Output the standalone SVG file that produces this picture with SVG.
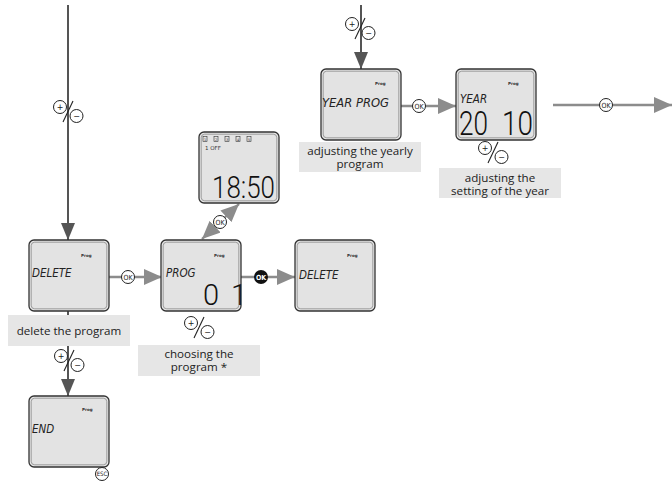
<svg xmlns="http://www.w3.org/2000/svg" xmlns:xlink="http://www.w3.org/1999/xlink" width="672" height="482" viewBox="0 0 672 482">
<style>
.lcd-outer{fill:#e3e3e3;stroke:#333;stroke-width:1.3}
.lcd-inner{fill:none;stroke:#8a8a8a;stroke-width:0.8}
.prog{font-family:"DejaVu Sans",sans-serif;font-size:4px;font-weight:bold;fill:#333}
.seg{font-family:"DejaVu Sans",sans-serif;font-style:oblique;font-size:11.5px;fill:#222;font-stretch:condensed}
.big{font-family:"Roboto","DejaVu Sans",sans-serif;font-weight:300;fill:#111}
.lbl-bg{fill:#e6e6e6}
.lbl{font-family:"Open Sans","Noto Sans",sans-serif;font-size:11.6px;fill:#222;text-anchor:middle}
.dark{stroke:#555;stroke-width:2;fill:none}
.grey{stroke:#8c8c8c;stroke-width:2.4;fill:none}
.okc{fill:#fff;stroke:#222;stroke-width:1}
.okt{font-family:"DejaVu Sans",sans-serif;font-size:7px;fill:#222;text-anchor:middle;font-stretch:condensed}
.pm{fill:#fff;stroke:#222;stroke-width:1}
.pmt{font-family:"DejaVu Sans",sans-serif;font-size:8px;fill:#222;text-anchor:middle}
</style>
<defs>
<marker id="ad" markerUnits="userSpaceOnUse" markerWidth="18" markerHeight="14" refX="17" refY="7" orient="auto"><path d="M0,0 L17,7 L0,14 z" fill="#555"/></marker>
<marker id="ag" markerUnits="userSpaceOnUse" markerWidth="19" markerHeight="16" refX="18" refY="8" orient="auto-start-reverse"><path d="M0,0 L18,8 L0,16 z" fill="#8c8c8c"/></marker>
<g id="pm">
<circle class="pm" cx="-8" cy="-4" r="6.5"/>
<text class="pmt" x="-8" y="-1.2">+</text>
<circle class="pm" cx="8.5" cy="5" r="6.5"/>
<text class="pmt" x="8.5" y="7.8">−</text>
<line x1="-5" y1="11" x2="5" y2="-10" stroke="#222" stroke-width="1.1"/>
</g>
<g id="box">
<rect class="lcd-outer" x="0" y="0" width="80" height="71" rx="5"/>
<rect class="lcd-inner" x="2.2" y="2.2" width="75.6" height="66.6" rx="3.5"/>
</g>
</defs>

<g id="connectors">
<line class="dark" x1="68" y1="5" x2="68" y2="240" marker-end="url(#ad)"/>
<line class="dark" x1="68" y1="311" x2="68" y2="396" marker-end="url(#ad)"/>
<line class="grey" x1="109" y1="277" x2="162" y2="277" marker-end="url(#ag)"/>
<line class="grey" x1="241" y1="277" x2="295" y2="277" marker-end="url(#ag)"/>
<line class="grey" x1="202" y1="239" x2="239" y2="204" marker-start="url(#ag)" marker-end="url(#ag)"/>
<line class="dark" x1="361" y1="5" x2="361" y2="69" marker-end="url(#ad)"/>
<line class="grey" x1="400" y1="106" x2="456" y2="106" marker-end="url(#ag)"/>
<line class="grey" x1="553" y1="105" x2="672" y2="105" marker-end="url(#ag)"/>
<use xlink:href="#pm" x="68" y="111"/>
<use xlink:href="#pm" x="69" y="360"/>
<use xlink:href="#pm" x="199" y="327"/>
<use xlink:href="#pm" x="360" y="28"/>
<use xlink:href="#pm" x="493" y="152"/>
<circle class="okc" cx="128" cy="277" r="6.5"/><text class="okt" x="128" y="279.5">OK</text>
<circle cx="261" cy="277" r="7" fill="#111"/><text class="okt" x="261" y="279.5" style="fill:#fff;font-weight:bold">OK</text>
<circle class="okc" cx="220" cy="222" r="6.5"/><text class="okt" x="220" y="224.5">OK</text>
<circle class="okc" cx="419" cy="106" r="6.5"/><text class="okt" x="419" y="108.5">OK</text>
<circle class="okc" cx="606" cy="105" r="6.5"/><text class="okt" x="606" y="107.5">OK</text>
</g>

<g id="node-delete1">
<use xlink:href="#box" x="29" y="240"/>
<text class="prog" x="81" y="257">Prog</text>
<text class="seg" x="32" y="277">DELETE</text>
<rect class="lbl-bg" x="8" y="315" width="122" height="31"/>
<text class="lbl" x="69" y="334.5">delete the program</text>
</g>

<g id="node-end">
<use xlink:href="#box" x="29" y="396"/>
<text class="prog" x="82" y="411">Prog</text>
<text class="seg" x="32" y="433">END</text>
<circle class="okc" cx="102" cy="474" r="6.5"/><text class="okt" x="102" y="476.4" style="font-size:6px">ESC</text>
</g>

<g id="node-prog">
<use xlink:href="#box" x="161" y="240"/>
<text class="prog" x="214" y="257">Prog</text>
<text class="seg" x="166" y="277">PROG</text>
<text class="big" x="203" y="305" font-size="29">0</text>
<text class="big" x="231" y="305" font-size="29">1</text>
<rect class="lbl-bg" x="138" y="345" width="122" height="31"/>
<text class="lbl" x="199" y="358">choosing the</text>
<text class="lbl" x="199" y="371">program *</text>
</g>

<g id="node-delete2">
<use xlink:href="#box" x="295" y="240"/>
<text class="prog" x="347" y="257">Prog</text>
<text class="seg" x="299" y="279">DELETE</text>
</g>

<g id="node-time">
<use xlink:href="#box" x="199" y="132"/>
<g fill="none" stroke="#333" stroke-width="0.6">
<rect x="203" y="136.5" width="4" height="5"/>
<rect x="214" y="136.5" width="4" height="5"/>
<rect x="225" y="136.5" width="4" height="5"/>
<rect x="236" y="136.5" width="4" height="5"/>
<rect x="247" y="136.5" width="4" height="5"/>
</g>
<g font-family="DejaVu Sans,sans-serif" font-size="3.5" fill="#333" text-anchor="middle">
<text x="205" y="140.5">1</text><text x="216" y="140.5">2</text><text x="227" y="140.5">3</text><text x="238" y="140.5">4</text><text x="249" y="140.5">5</text>
</g>
<text x="205" y="150" font-family="DejaVu Sans,sans-serif" font-size="5.5" fill="#333">1 OFF</text>
<text class="big" x="212" y="198" font-size="31" textLength="63" lengthAdjust="spacingAndGlyphs">18:50</text>
</g>

<g id="node-yearprog">
<use xlink:href="#box" x="321" y="69"/>
<text class="prog" x="375" y="85">Prog</text>
<text class="seg" x="322" y="107" textLength="67" lengthAdjust="spacingAndGlyphs">YEAR PROG</text>
<rect class="lbl-bg" x="299" y="142" width="122" height="30"/>
<text class="lbl" x="360" y="155">adjusting the yearly</text>
<text class="lbl" x="360" y="168">program</text>
</g>

<g id="node-year">
<use xlink:href="#box" x="456" y="69"/>
<text class="prog" x="508" y="85">Prog</text>
<text class="seg" x="460" y="103">YEAR</text>
<text class="big" x="459" y="135" font-size="34" textLength="29" lengthAdjust="spacingAndGlyphs">20</text>
<text class="big" x="502" y="135" font-size="34" textLength="31" lengthAdjust="spacingAndGlyphs">10</text>
<rect class="lbl-bg" x="439" y="168" width="122" height="30"/>
<text class="lbl" x="500" y="182">adjusting the</text>
<text class="lbl" x="500" y="195">setting of the year</text>
</g>
</svg>
